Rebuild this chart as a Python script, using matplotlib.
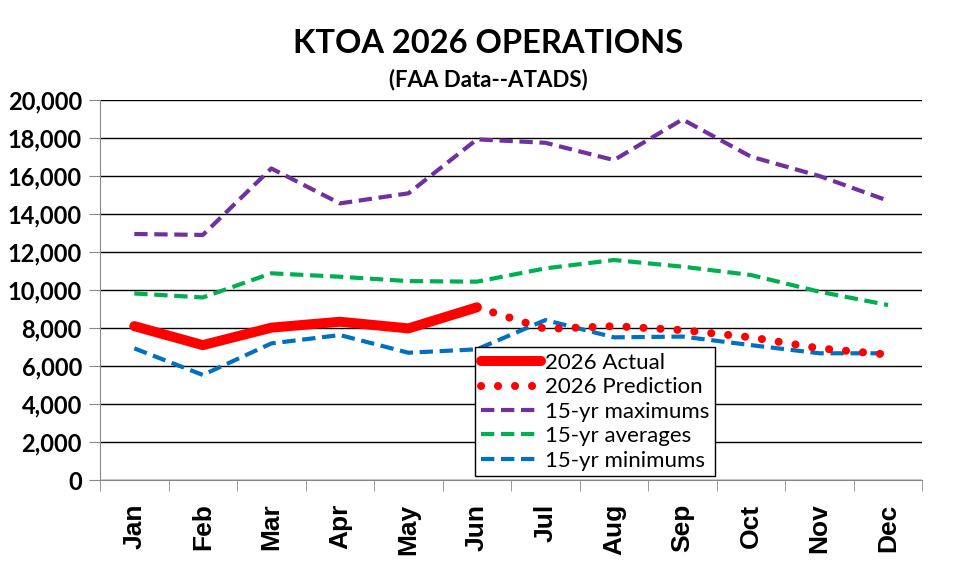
import matplotlib.pyplot as plt
import numpy as np

months = ["Jan", "Feb", "Mar", "Apr", "May", "Jun", "Jul", "Aug", "Sep", "Oct", "Nov", "Dec"]
actual = [8100, 7100, 8020, 8330, 7980, 9090]
prediction = [np.nan, np.nan, np.nan, np.nan, np.nan, 9090, 7950, 8100, 7890, 7510, 6930, 6600]
maximums = [12950, 12900, 16400, 14560, 15090, 17930, 17750, 16840, 18980, 17020, 16000, 14700]
averages = [9820, 9610, 10880, 10700, 10470, 10440, 11140, 11580, 11230, 10790, 9910, 9210]
minimums = [6930, 5530, 7190, 7630, 6700, 6880, 8420, 7510, 7550, 7100, 6670, 6670]

fig = plt.figure(figsize=(9.76, 5.75), dpi=100)
ax = fig.add_axes([0.1025, 0.1652, 0.8425, 0.6608])

x = np.arange(len(months))
ax.plot(x[:len(actual)], actual, color="#FF0000", lw=7.2, solid_capstyle="round",
        label="2026 Actual", zorder=5)
ax.plot(x, prediction, color="#FF0000", lw=5.8, linestyle=(0, (0.01, 2.1)),
        dash_capstyle="round", label="2026 Prediction", zorder=5)
ax.plot(x, maximums, color="#7030A0", lw=3, linestyle=(0, (3.2, 1.6)), label="15-yr maximums")
ax.plot(x, averages, color="#00B050", lw=3, linestyle=(0, (3.2, 1.6)), label="15-yr averages")
ax.plot(x, minimums, color="#0070C0", lw=3, linestyle=(0, (3.2, 1.6)), label="15-yr minimums")

ax.set_xlim(-0.5, 11.5)
ax.set_ylim(0, 20000)
ax.set_yticks(range(0, 20001, 2000))
ax.set_yticklabels([f"{v:,}" for v in range(0, 20001, 2000)],
                   fontfamily="Lato", fontweight="bold", fontsize=17)
ax.yaxis.grid(True, color="black", lw=1)
ax.set_axisbelow(True)

ax.set_xticks(x)
ax.set_xticklabels(months, rotation=90, fontfamily="Liberation Sans",
                   fontweight="bold", fontsize=19)
ax.set_xticks(np.arange(-0.5, 12, 1), minor=True)
ax.tick_params(axis="x", which="major", length=0, pad=17)
ax.tick_params(axis="x", which="minor", length=8, color="#888888")
ax.tick_params(axis="y", length=8, color="#888888", pad=5)

for s in ["top", "right"]:
    ax.spines[s].set_visible(False)
ax.spines["left"].set_color("#888888")
ax.spines["bottom"].set_color("#888888")

fig.text(0.5, 0.925, "KTOA 2026 OPERATIONS", ha="center", va="center",
         fontfamily="Lato", fontweight="bold", fontsize=23.5)
fig.text(0.5, 0.862, "(FAA Data--ATADS)", ha="center", va="center",
         fontfamily="Lato", fontweight="bold", fontsize=16)

leg = ax.legend(loc="lower left", bbox_to_anchor=(0.456, 0.01), prop={"family": "Lato", "size": 16},
                frameon=True, fancybox=False, edgecolor="black", framealpha=1,
                handlelength=2.7, borderpad=0.25, labelspacing=0.2, handletextpad=0.2,
                borderaxespad=0)
leg.get_frame().set_linewidth(1)
leg.set_zorder(10)

fig.savefig("out.png", dpi=100)
